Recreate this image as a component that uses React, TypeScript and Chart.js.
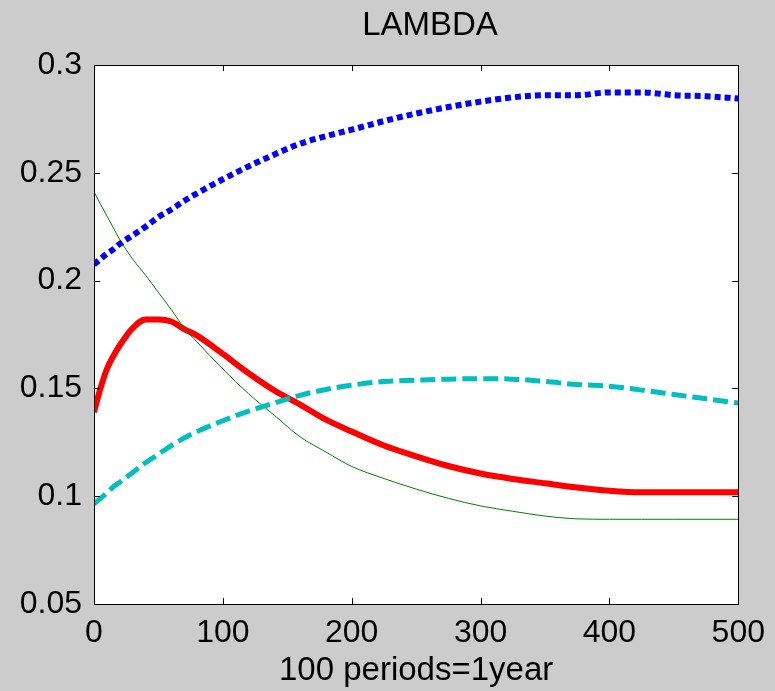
import React, { useEffect, useRef } from "react";
import { Chart, registerables } from "chart.js";

Chart.register(...registerables);

const TITLE = "LAMBDA";
const X_LABEL = "100 periods=1year";
const PERIODS = [0, 5, 10, 15, 20, 30, 40, 50, 60, 70, 80, 100, 120, 140, 160, 180, 200, 225, 250, 275, 300, 325, 350, 375, 400, 425, 450, 475, 500];
const RED = [0.139, 0.15, 0.159, 0.165, 0.17, 0.178, 0.182, 0.182, 0.181, 0.1775, 0.1745, 0.166, 0.157, 0.149, 0.1425, 0.1355, 0.13, 0.1235, 0.1185, 0.114, 0.1105, 0.108, 0.106, 0.104, 0.1025, 0.1018, 0.1018, 0.1018, 0.1018];
const BLUE = [0.2075, 0.21, 0.2125, 0.2145, 0.217, 0.221, 0.225, 0.2295, 0.233, 0.237, 0.2405, 0.247, 0.253, 0.2585, 0.2635, 0.267, 0.27, 0.274, 0.2775, 0.2805, 0.283, 0.285, 0.286, 0.286, 0.2873, 0.2873, 0.286, 0.2855, 0.2845];
const CYAN = [0.0965, 0.099, 0.1015, 0.1044, 0.1065, 0.111, 0.1155, 0.1195, 0.1235, 0.127, 0.13, 0.135, 0.1395, 0.1432, 0.1468, 0.1495, 0.1515, 0.1532, 0.1538, 0.1543, 0.1545, 0.1543, 0.1532, 0.1518, 0.151, 0.1492, 0.1472, 0.1452, 0.1432];
const GREEN = [0.2412, 0.2355, 0.23, 0.2245, 0.219, 0.21, 0.2025, 0.1945, 0.1865, 0.178, 0.1715, 0.159, 0.1475, 0.1375, 0.1275, 0.1205, 0.1138, 0.1082, 0.1033, 0.099, 0.0955, 0.093, 0.0908, 0.0895, 0.0893, 0.0893, 0.0893, 0.0893, 0.0893];
const X_TICKS = [0, 100, 200, 300, 400, 500];
const Y_TICKS = [0.05, 0.1, 0.15, 0.2, 0.25, 0.3];
const Y_TICK_LABELS = ["0.05", "0.1", "0.15", "0.2", "0.25", "0.3"];

const FONT = "'Liberation Sans', Arial, Helvetica, sans-serif";

const toPoints = (vals: number[]) => PERIODS.map((p, i) => ({ x: p, y: vals[i] }));

const framePlugin = {
  id: "matlabFrame",
  beforeDraw(chart: any) {
    const { ctx, chartArea: a, width, height } = chart;
    ctx.save();
    ctx.fillStyle = "#cccccc";
    ctx.fillRect(0, 0, width, height);
    ctx.fillStyle = "#ffffff";
    ctx.fillRect(a.left, a.top, a.right - a.left, a.bottom - a.top);
    ctx.restore();
  },
  afterDraw(chart: any) {
    const { ctx, chartArea: a } = chart;
    const xs = chart.scales.x;
    const ys = chart.scales.y;
    ctx.save();
    ctx.strokeStyle = "#000000";
    ctx.lineWidth = 1;
    ctx.strokeRect(Math.round(a.left) + 0.5, Math.round(a.top) + 0.5, Math.round(a.right - a.left), Math.round(a.bottom - a.top));
    const tl = 6;
    ctx.beginPath();
    xs.ticks.forEach((t: any) => {
      const px = Math.round(xs.getPixelForValue(t.value)) + 0.5;
      ctx.moveTo(px, a.bottom);
      ctx.lineTo(px, a.bottom - tl);
      ctx.moveTo(px, a.top);
      ctx.lineTo(px, a.top + tl);
    });
    ys.ticks.forEach((t: any) => {
      const py = Math.round(ys.getPixelForValue(t.value)) + 0.5;
      ctx.moveTo(a.left, py);
      ctx.lineTo(a.left + tl, py);
      ctx.moveTo(a.right, py);
      ctx.lineTo(a.right - tl, py);
    });
    ctx.stroke();
    ctx.fillStyle = "#000000";
    ctx.font = `33px ${FONT}`;
    ctx.textAlign = "center";
    ctx.textBaseline = "alphabetic";
    ctx.fillText(TITLE, 430, 35);
    ctx.restore();
  },
};

export default function App() {
  const ref = useRef<HTMLCanvasElement | null>(null);

  useEffect(() => {
    if (!ref.current) return;
    const chart = new Chart(ref.current, {
      type: "line",
      data: {
        datasets: [
          {
            label: "red",
            data: toPoints(RED),
            borderColor: "rgb(255,0,0)",
            borderWidth: 6,
            pointRadius: 0,
            cubicInterpolationMode: "monotone",
            borderJoinStyle: "round",
            order: 4,
          },
          {
            label: "green",
            data: toPoints(GREEN),
            borderColor: "rgb(0,128,0)",
            borderWidth: 1,
            pointRadius: 0,
            cubicInterpolationMode: "monotone",
            order: 3,
          },
          {
            label: "blue",
            data: toPoints(BLUE),
            borderColor: "rgb(0,0,255)",
            borderWidth: 6,
            borderDash: [6, 4],
            borderCapStyle: "butt",
            pointRadius: 0,
            cubicInterpolationMode: "monotone",
            order: 2,
          },
          {
            label: "cyan",
            data: toPoints(CYAN),
            borderColor: "rgb(0,191,191)",
            borderWidth: 5,
            borderDash: [15, 6],
            borderCapStyle: "butt",
            pointRadius: 0,
            cubicInterpolationMode: "monotone",
            order: 1,
          },
        ],
      },
      options: {
        responsive: false,
        animation: false,
        layout: { padding: { top: 65, right: 36, left: 0, bottom: 0 } },
        plugins: {
          legend: { display: false },
          tooltip: { enabled: false },
          title: { display: false },
        },
        scales: {
          x: {
            type: "linear",
            min: 0,
            max: 500,
            afterBuildTicks: (s: any) => {
              s.ticks = X_TICKS.map((v) => ({ value: v }));
            },
            afterFit: (s: any) => {
              s.height = 87;
            },
            grid: { display: false, drawTicks: false },
            border: { display: false },
            ticks: {
              color: "#000000",
              font: { family: FONT, size: 32 },
              padding: 10,
              maxRotation: 0,
              autoSkip: false,
            },
            title: {
              display: true,
              text: X_LABEL,
              color: "#000000",
              font: { family: FONT, size: 33 },
              padding: { top: 0, bottom: 0 },
            },
          },
          y: {
            type: "linear",
            min: 0.05,
            max: 0.3,
            afterBuildTicks: (s: any) => {
              s.ticks = Y_TICKS.map((v) => ({ value: v }));
            },
            afterFit: (s: any) => {
              s.width = 94;
            },
            grid: { display: false, drawTicks: false },
            border: { display: false },
            ticks: {
              color: "#000000",
              font: { family: FONT, size: 32 },
              padding: 12,
              autoSkip: false,
              callback: (v: any) => {
                const i = Y_TICKS.findIndex((t) => Math.abs(t - Number(v)) < 1e-9);
                return i >= 0 ? Y_TICK_LABELS[i] : "";
              },
            },
          },
        },
      },
      plugins: [framePlugin],
    } as any);
    return () => chart.destroy();
  }, []);

  return (
    <div style={{ position: "fixed", left: 0, top: 0, width: 775, height: 691, background: "#cccccc" }}>
      <canvas ref={ref} width={775} height={691} style={{ display: "block" }} />
    </div>
  );
}
